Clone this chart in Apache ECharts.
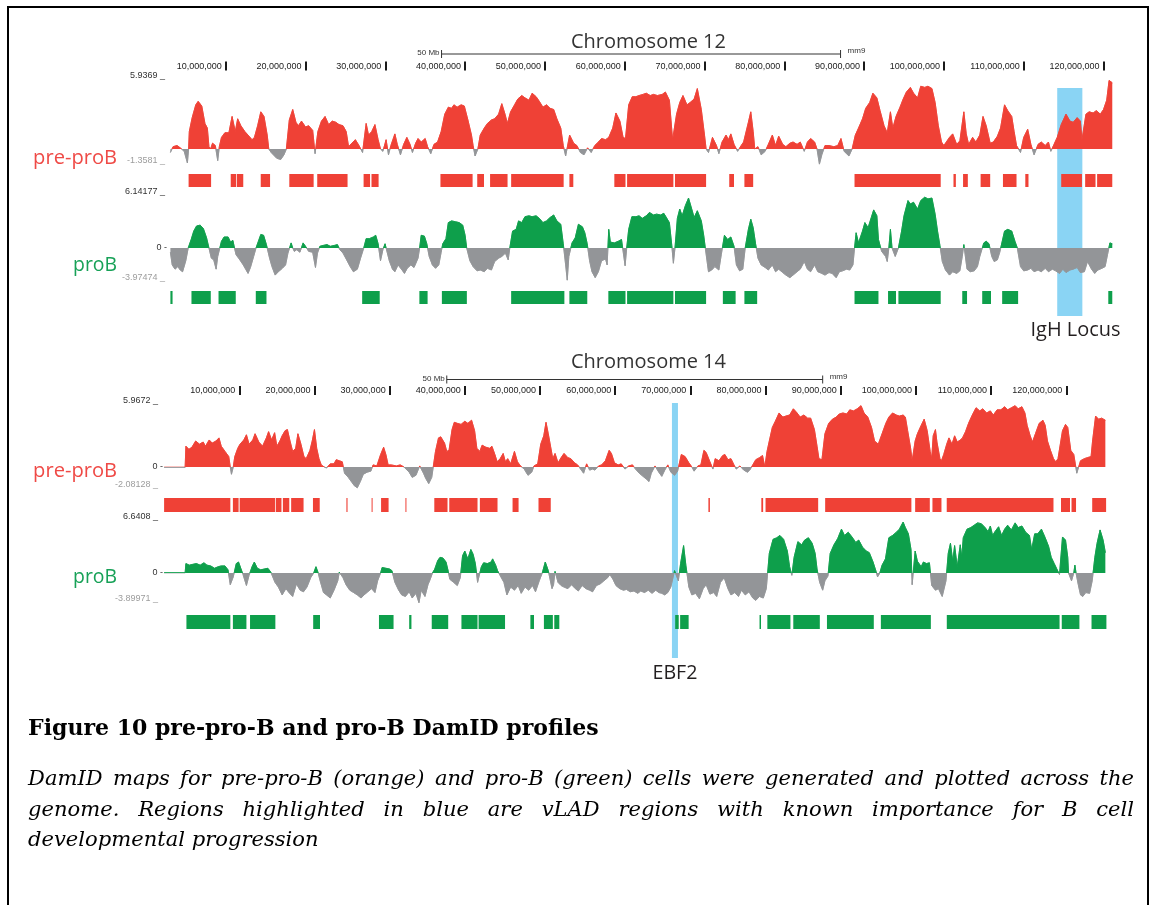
<!DOCTYPE html>
<html><head><meta charset="utf-8">
<script src="https://cdn.jsdelivr.net/npm/echarts/dist/echarts.min.js"></script>
<style>html,body{margin:0;padding:0;background:#fff}#c{width:1156px;height:905px}</style>
</head><body><div id="c"></div>
<script>
// ---------------- DATA (genomic positions in Mb, signal values) ----------------
const chr12Length = 121.25753;
const chr14Length = 125.194864;
const rulerTicksMb = [10,20,30,40,50,60,70,80,90,100,110,120];
const rulerTickLabels = ['10,000,000','20,000,000','30,000,000','40,000,000','50,000,000','60,000,000','70,000,000','80,000,000','90,000,000','100,000,000','110,000,000','120,000,000'];

const chr12PreRange = [-1.3581, 5.9369];
const chr12PreLabels = ['-1.3581 _', '5.9369 _'];
const chr12ProRange = [-3.97474, 6.14177];
const chr12ProLabels = ['-3.97474 _', '6.14177 _'];
const chr14PreRange = [-2.08128, 5.9672];
const chr14PreLabels = ['-2.08128 _', '5.9672 _'];
const chr14ProRange = [-3.89971, 6.6408];
const chr14ProLabels = ['-3.89971 _', '6.6408 _'];
const zeroLabel = '0 -';

const chr12PreProB = [
[3.07,-0.3],[3.4,0.2],[3.9,0.3],[4.3,0.1],[4.8,-0.2],[5.2,-1.2],[5.35,0],
[5.44,1.5],[5.8,2.7],[6.25,3.8],[6.55,4.1],[7.0,3.7],[7.4,2.2],[7.7,1.8],[7.9,0.2],
[8.1,0],[8.35,0.5],[8.7,0.3],[9.0,-1.0],[9.2,0.2],
[9.47,1.0],[9.9,1.4],[10.4,1.4],[10.8,2.8],[11.2,1.5],[11.5,2.6],[11.9,2.0],[12.4,1.5],[12.8,1.2],[13.3,0.8],[13.6,1.0],[14.0,2.0],[14.4,3.2],[14.8,2.8],[15.2,1.2],[15.4,0],
[15.7,-0.3],[16.4,-0.8],[16.9,-0.9],[17.3,-0.5],[17.6,0],
[17.97,2.5],[18.4,3.4],[18.8,2.3],[19.1,2.0],[19.5,2.4],[20.0,1.9],[20.4,2.0],[20.9,1.6],[21.2,-0.4],[21.55,1.5],[22.0,2.4],[22.45,2.8],[22.9,2.1],[23.35,2.4],[23.8,2.3],[24.2,2.1],[24.7,2.0],[25.1,1.5],[25.4,0.2],
[25.8,0.5],[26.25,0.8],[26.7,0.3],[27.15,-0.3],
[27.6,2.2],[27.9,1.2],[28.3,1.5],[28.7,2.1],[29.1,0.8],[29.4,0],
[29.7,-0.2],[30.1,0.8],[30.4,-0.5],[30.7,0.3],[31.2,1.3],[31.5,0.4],[31.9,-0.5],[32.3,0.4],[32.7,1.0],[33.1,0.4],[33.4,-0.3],[33.8,0.5],[34.1,0.9],[34.5,0.6],[35.0,0.9],[35.3,0.2],[35.7,-0.4],[36.1,0.4],[36.55,0.6],
[37.0,1.5],[37.45,3.0],[37.9,3.6],[38.3,3.5],[38.6,3.8],[39.0,3.6],[39.5,3.8],[39.9,3.7],[40.35,2.5],[40.8,1.2],[41.0,0.3],[41.25,-0.6],[41.6,0],
[41.9,1.2],[42.4,1.8],[42.8,2.2],[43.3,2.5],[43.7,2.6],[44.2,3.0],[44.6,3.9],[45.0,3.0],[45.3,2.2],
[45.7,3.2],[46.2,3.8],[46.6,4.3],[47.1,4.6],[47.5,4.4],[48.0,4.2],[48.4,4.8],[48.9,4.5],[49.3,4.1],[49.75,3.6],[50.2,3.8],[50.65,3.5],[51.1,3.4],[51.5,2.6],[51.99,1.8],[52.3,0.3],
[52.6,-0.6],[53.1,1.2],[53.6,0.5],[54.0,0.3],[54.45,-0.3],[54.9,-0.5],[55.35,0.1],[55.8,-0.3],[56.25,0.3],
[56.7,0.6],[57.1,0.9],[57.6,0.8],[58.0,1.0],[58.5,1.8],[58.9,3.1],[59.4,2.4],[59.8,1.0],[60.1,0.9],
[60.5,3.8],[60.95,4.5],[61.4,4.5],[61.8,4.6],[62.3,4.7],[62.7,4.8],[63.2,4.6],[63.6,4.7],[64.1,4.6],[64.7,4.7],[65.1,4.9],[65.6,4.2],[66.0,0.8],
[66.5,3.0],[66.9,4.0],[67.3,4.6],[67.8,3.8],[68.2,4.0],[68.7,4.3],[69.1,5.2],[69.6,3.4],[70.0,1.2],[70.2,0],
[70.5,-0.3],[71.0,1.0],[71.5,0.3],[71.8,-0.4],[72.2,0.6],[72.7,1.2],[73.0,0.8],[73.3,1.3],[73.7,0.4],[74.15,-0.2],[74.6,0.3],[74.9,0.6],
[75.5,2.3],[75.8,3.2],[76.1,1.5],[76.3,0],
[76.7,0.2],[77.1,-0.5],[77.6,-0.2],[78.0,0.4],[78.5,1.2],[78.9,0.3],[79.3,1.1],[79.8,0.4],[80.2,0.2],[80.7,0.5],[81.1,0.6],[81.6,0.4],[82.0,0.6],[82.5,-0.2],[82.9,0.6],[83.3,0.9],[83.8,0.6],[84.1,0],[84.4,-1.3],[84.7,-0.5],[85.1,0.3],[85.6,0.3],[86.2,0.2],[86.7,0.3],[87.1,0.9],[87.5,-0.2],[87.8,-0.4],[88.1,-0.6],[88.5,0],
[88.9,1.2],[89.3,1.8],[89.8,2.6],[90.2,3.5],[90.7,4.0],[91.1,4.8],[91.6,4.4],[92.0,3.3],[92.5,2.0],[92.9,1.4],[93.3,3.2],[93.6,1.8],[94.0,2.8],[94.5,3.6],[94.9,4.3],[95.3,4.9],[95.8,5.3],[96.2,4.8],[96.7,4.4],[97.1,5.4],[97.6,5.3],[98.0,5.4],[98.5,5.2],[98.9,4.0],[99.3,2.0],[99.7,0.6],
[100.0,0.3],[100.7,1.0],[101.1,1.3],[101.6,0.4],[102.0,0.7],[102.5,3.2],[102.8,1.3],[103.1,0.4],[103.6,1.0],[104.0,0.6],[104.5,1.2],[104.9,2.8],[105.3,2.0],[105.8,0.5],[106.2,0.6],[106.7,1.1],[107.1,1.8],[107.6,3.8],[108.0,3.3],[108.5,2.8],[108.8,1.5],[109.1,0.3],[109.6,-0.3],[110.0,1.0],[110.5,1.7],[110.9,0.4],[111.3,-0.5],[111.8,0.4],[112.2,0.6],[112.7,0.3],[113.1,0.6],[113.4,-0.2],[113.8,0.4],
[114.2,1.0],[114.7,2.1],[115.3,3.0],[115.8,2.4],[116.2,2.3],[116.7,2.7],[117.1,2.4],[117.3,0.8],
[117.8,3.0],[118.2,3.2],[118.7,3.1],[119.1,3.3],[119.6,3.0],[120.0,3.4],[120.4,4.2],[120.7,5.9],[120.9,5.8],[121.1,5.7]
];

const chr12ProB = [
[3.07,-0.5],[3.3,-2.0],[3.65,-2.5],[4.0,-2.2],[4.3,-2.6],[4.6,-2.8],[5.0,-1.5],[5.3,0],
[5.67,1.0],[6.0,2.0],[6.35,2.6],[6.8,2.7],[7.2,2.3],[7.6,1.2],[7.9,0],
[8.2,-1.2],[8.5,-1.4],[8.8,-2.5],[9.0,-1.0],
[9.47,0.8],[9.8,1.3],[10.3,1.3],[10.6,0.7],[10.9,0.9],[11.1,0],
[11.3,-0.8],[11.7,-1.3],[12.2,-2.0],[12.5,-2.5],[12.8,-3.0],[13.1,-2.3],[13.5,-1.0],[13.8,0],
[14.1,0.8],[14.4,1.6],[14.75,1.5],[15.1,0.4],
[15.5,-1.2],[15.8,-2.2],[16.2,-3.2],[16.6,-2.8],[17.1,-2.4],[17.5,-2.0],[17.8,-0.6],
[18.2,0.6],[18.4,0],[18.6,-0.4],[18.9,-0.2],[19.3,-0.5],[19.7,0.6],[20.0,0.2],
[20.4,-0.4],[20.9,-0.5],[21.25,-2.3],[21.5,-0.6],
[21.8,0.2],[22.2,0.3],[22.7,0.4],[23.1,0.2],[23.6,0.3],[24.0,0.4],[24.3,-0.2],
[24.7,-0.6],[25.1,-1.3],[25.6,-2.2],[26.0,-2.8],[26.5,-2.5],[26.9,-1.2],[27.3,0],
[27.6,1.1],[28.0,1.1],[28.5,1.3],[28.8,1.5],[29.1,0.5],
[29.4,-1.5],[29.7,-0.2],[29.97,0.5],[30.1,0],
[30.5,-1.5],[30.9,-2.5],[31.2,-2.8],[31.6,-2.0],[32.1,-2.6],[32.4,-3.0],[32.75,-2.4],[33.2,-2.0],[33.6,-2.3],[34.1,-1.2],[34.3,0],
[34.5,1.5],[34.9,1.4],[35.2,0.5],
[35.5,-1.0],[35.9,-2.0],[36.3,-2.4],[36.7,-2.0],[37.0,-0.5],
[37.2,0.5],[37.6,1.1],[37.9,3.0],[38.3,3.2],[38.8,3.1],[39.25,3.0],[39.7,2.7],[40.0,1.5],[40.2,0],
[40.6,-1.5],[41.0,-2.2],[41.5,-2.7],[41.9,-2.6],[42.4,-2.8],[42.8,-2.4],[43.3,-2.6],[43.7,-1.6],[44.2,-1.2],[44.6,-1.0],[45.05,-0.6],[45.4,-1.4],[45.6,0],
[45.95,2.0],[46.4,2.2],[46.7,3.2],[47.1,3.0],[47.5,3.7],[48.0,3.8],[48.4,3.7],[48.9,3.8],[49.3,3.5],[49.75,3.0],[50.2,3.2],[50.65,3.6],[51.1,3.9],[51.5,3.2],[51.99,2.8],[52.3,0.5],
[52.6,-2.0],[52.8,-3.8],[53.0,-1.0],
[53.4,0.6],[53.8,1.2],[54.2,2.8],[54.7,2.5],[55.0,1.8],[55.3,0.5],
[55.6,-1.5],[55.9,-2.8],[56.3,-3.5],[56.7,-2.8],[57.1,-1.5],[57.6,-1.3],[57.8,-2.0],
[58.0,2.2],[58.2,0.7],[58.7,0.6],[59.2,0.8],[59.6,1.0],[59.8,0.8],
[60.05,-2.1],[60.25,0],
[60.5,2.2],[60.9,3.7],[61.4,3.7],[61.8,3.8],[62.2,3.5],[62.7,3.8],[63.1,4.2],[63.6,3.9],[64.0,4.0],[64.5,3.9],[64.9,4.1],[65.6,3.0],[65.9,0.3],
[66.1,-1.8],[66.3,0],
[66.6,3.5],[66.9,4.6],[67.2,3.8],[67.6,5.0],[68.0,5.9],[68.4,4.6],[68.7,3.6],[69.1,4.4],[69.6,3.2],[69.9,1.5],[70.1,0],
[70.5,-2.8],[70.9,-2.6],[71.3,-2.2],[71.8,-2.6],[72.1,-0.8],
[72.5,1.5],[72.9,1.0],[73.3,1.3],[73.7,0.2],
[74.0,-2.0],[74.4,-2.7],[74.8,-2.5],[75.1,0],
[75.5,2.2],[75.8,3.4],[76.1,2.4],[76.4,0.5],
[76.7,-1.2],[77.1,-2.0],[77.6,-2.3],[78.0,-2.6],[78.5,-2.0],[78.9,-2.8],[79.3,-2.5],[79.8,-2.9],[80.2,-3.2],[80.7,-3.5],[81.1,-3.2],[81.6,-2.8],[82.0,-2.5],[82.5,-1.6],[82.9,-2.5],[83.3,-2.8],[83.8,-2.0],[84.2,-2.8],[84.7,-3.0],[85.1,-3.2],[85.6,-2.9],[86.0,-3.0],[86.5,-3.5],[86.9,-2.8],[87.3,-2.7],[87.8,-2.5],[88.2,-2.6],[88.6,-2.0],[88.8,0],
[89.0,1.8],[89.3,0.6],[89.8,2.0],[90.1,3.0],[90.5,2.4],[90.9,3.6],[91.2,4.5],[91.6,3.8],[91.8,1.0],
[92.2,-0.4],[92.7,-1.0],[92.9,-1.6],[93.1,0],
[93.3,2.2],[93.5,0],[93.9,-1.0],[94.3,0],
[94.7,2.0],[95.0,3.8],[95.5,5.6],[95.8,5.2],[96.2,5.4],[96.7,4.6],[97.1,5.6],[97.6,6.0],[98.0,5.8],[98.5,5.9],[98.9,4.0],[99.2,2.0],[99.5,0.3],
[99.8,-1.6],[100.2,-2.6],[100.7,-3.2],[101.1,-2.8],[101.6,-3.0],[102.0,-2.7],[102.3,-1.0],[102.5,0.4],
[102.9,-2.5],[103.3,-2.8],[103.8,-2.7],[104.2,-2.2],[104.5,-1.0],
[105.0,0.6],[105.3,0.8],[105.65,0.5],
[106.0,-1.0],[106.3,-1.6],[106.7,-1.4],[107.0,-0.5],
[107.6,2.0],[108.0,2.2],[108.5,2.0],[108.9,0.8],[109.2,0],
[109.6,-2.2],[110.0,-2.7],[110.5,-2.6],[110.9,-2.4],[111.3,-2.8],[111.8,-2.6],[112.2,-2.8],[112.7,-2.4],[113.1,-2.8],[113.6,-2.5],[114.0,-2.7],[114.5,-3.0],[114.9,-2.5],[115.3,-2.9],[115.8,-2.6],[116.2,-2.5],[116.7,-2.3],[117.1,-2.9],[117.6,-2.8],[118.0,-1.6],[118.5,-2.5],[118.9,-3.0],[119.3,-2.6],[119.8,-2.4],[120.2,-2.2],[120.5,-0.8],[120.8,0.6],[121.1,0.5]
];

const chr14PreProB = [
[0,-0.03],[2.8,-0.03],
[2.9,2.0],[3.3,1.7],[3.7,1.9],[4.2,2.5],[4.7,2.2],[5.2,2.4],[5.5,2.0],[6.0,2.6],[6.4,2.3],[6.9,2.5],[7.3,2.8],[7.6,2.0],[8.1,1.5],[8.6,1.0],[8.8,0],[8.96,-0.7],[9.2,0],
[9.4,1.0],[9.8,1.8],[10.1,2.2],[10.6,2.6],[10.95,3.1],[11.3,2.2],[11.8,2.6],[12.1,3.2],[12.6,2.4],[13.1,2.0],[13.6,2.8],[13.9,3.4],[14.3,2.6],[14.7,3.3],[15.0,2.0],[15.4,2.5],[15.7,3.0],[16.1,3.5],[16.4,3.6],[16.75,2.5],[17.1,1.5],[17.5,1.8],[17.8,3.2],[18.2,2.2],[18.6,1.0],[18.9,0.8],[19.4,1.6],[19.7,2.5],[20.0,3.6],[20.3,1.8],[20.6,0.8],[20.9,0.2],
[21.3,0],[21.6,-0.1],[22.1,0.3],[22.6,0.3],[22.9,0.7],[23.3,0.6],[23.7,0.5],
[24.0,-0.6],[24.5,-1.0],[25.0,-1.5],[25.3,-1.8],[25.7,-2.0],[26.1,-1.4],[26.5,-0.7],[27.0,-0.5],[27.5,-0.4],
[27.8,0.2],[28.3,0.1],[28.8,1.2],[29.2,1.9],[29.5,1.2],[29.8,0.2],
[30.2,0.2],[30.9,0.1],[31.4,0.2],[31.9,0],[32.1,0.1],
[32.6,-0.5],[33.0,-1.0],[33.5,-0.8],[34.0,0.1],[34.5,-0.6],[34.8,-1.1],[35.2,-1.6],[35.6,-1.0],[35.8,0],
[36.1,1.5],[36.5,2.8],[36.8,2.9],[37.3,2.3],[37.6,1.5],[37.9,1.6],[38.3,3.6],[38.6,4.3],[39.0,4.2],[39.5,4.1],[40.0,4.4],[40.4,4.2],[40.9,4.5],[41.3,3.5],[41.6,1.8],[42.0,1.5],[42.3,2.1],[42.8,1.9],[43.3,1.8],[43.6,2.0],[44.0,1.2],[44.3,0.5],
[44.7,0.8],[45.1,1.3],[45.4,0.5],[45.7,0.8],[46.1,0.3],[46.6,1.5],[47.0,0.5],[47.4,0.1],[47.9,-0.2],[48.4,-0.8],[48.9,-0.5],[49.2,0.1],[49.7,0.3],
[50.1,2.2],[50.5,3.0],[50.8,4.3],[51.1,3.2],[51.4,2.0],[51.7,0.8],
[52.0,1.3],[52.4,0.4],[52.9,1.0],[53.2,1.3],[53.7,0.9],[54.1,0.8],[54.6,0.4],[55.0,0.2],[55.5,-0.3],[55.8,-0.6],[56.2,0.3],
[56.6,-0.3],[57.0,-0.2],[57.3,-0.3],[57.8,0.1],[58.2,0.2],[58.7,0.6],[59.2,1.6],[59.5,1.3],[59.9,0.4],[60.4,0.2],
[60.8,0.3],[61.3,-0.2],[61.8,0.1],[62.3,0.2],[62.7,-0.2],[63.2,-0.6],[63.7,-0.9],[64.2,-1.2],[64.5,-1.4],[64.8,-0.6],[65.3,0.1],[65.8,-0.5],[66.2,-0.9],[66.6,-0.3],[67.0,0.2],[67.4,-0.5],[67.9,-0.8],[68.3,-0.4],
[68.8,1.2],[69.3,1.0],[69.8,0.4],[70.2,0],[70.5,-0.4],[71.0,0.1],[71.4,0.2],
[71.8,1.6],[72.1,1.4],[72.6,0.5],[73.0,-0.2],[73.3,0.8],[73.8,0.6],[74.3,1.1],[74.6,1.2],[75.0,0.7],[75.4,0.8],[75.8,0.2],
[76.1,-0.2],[76.6,0.1],[77.1,-0.3],[77.6,-0.5],[77.9,-0.3],[78.3,0.2],[78.7,0.7],[79.2,0.9],[79.6,1.1],[79.9,0],
[80.2,1.5],[80.5,2.5],[80.9,3.8],[81.3,4.4],[81.8,5.2],[82.3,4.8],[82.7,4.9],[83.2,5.0],[83.7,5.6],[84.2,5.2],[84.6,4.8],[85.1,5.0],[85.6,4.7],[86.0,4.7],[86.5,3.6],[86.85,2.0],[87.1,0.8],[87.5,0.7],
[87.9,3.2],[88.4,4.2],[88.9,4.6],[89.4,4.8],[89.8,5.1],[90.3,5.2],[90.8,5.1],[91.2,5.5],[91.7,5.4],[92.2,5.6],[92.7,5.9],[93.1,5.2],[93.6,4.8],[94.1,3.8],[94.5,2.5],[95.0,2.2],[95.5,3.2],[96.0,4.2],[96.4,4.8],[96.9,5.2],[97.4,5.0],[97.8,4.9],[98.3,5.0],[98.6,4.8],[98.9,3.5],[99.3,1.8],[99.5,0.6],
[99.9,2.5],[100.2,3.2],[100.7,4.0],[101.1,4.6],[101.5,3.5],[101.9,1.5],[102.1,0.8],[102.3,3.0],[102.6,3.6],[102.8,2.4],[103.2,0.8],[103.4,0.6],
[103.7,1.2],[104.1,2.2],[104.4,2.8],[104.8,2.2],[105.15,3.0],[105.5,2.4],[105.9,2.6],[106.2,2.8],[106.6,3.4],[107.0,4.2],[107.5,5.0],[108.0,5.7],[108.5,5.4],[108.9,5.6],[109.4,5.2],[109.9,5.4],[110.3,5.0],[110.8,5.5],[111.3,5.5],[111.8,5.8],[112.2,5.5],[112.7,5.7],[113.2,5.9],[113.6,5.6],[114.1,5.8],[114.5,5.2],[114.8,4.0],[115.2,3.0],[115.5,2.4],
[115.9,3.2],[116.4,4.2],[116.9,4.5],[117.2,4.0],[117.5,2.5],[117.9,1.6],[118.3,0.8],[118.6,0.5],[118.9,0.8],
[119.5,3.5],[119.9,4.1],[120.2,3.8],[120.6,1.6],[121.0,1.2],[121.2,0.3],[121.4,-0.6],
[121.9,0.6],[122.4,0.8],[122.8,0.9],[123.3,1.0],[123.5,2.5],[123.9,4.9],[124.3,4.6],[124.7,4.7],[125.2,4.5]
];

const chr14ProB = [
[0,0.03],[2.8,0.03],
[2.9,1.2],[3.35,1.0],[3.8,1.1],[4.3,1.2],[4.8,1.0],[5.3,1.3],[5.7,1.0],[6.2,0.9],[6.7,0.6],[7.2,0.8],[7.6,0.9],[8.1,0.9],[8.5,0.4],
[8.8,-1.5],[9.2,-0.5],
[9.6,1.2],[9.9,1.4],[10.2,0.6],
[10.5,-0.2],[10.95,-1.6],[11.3,-0.3],
[11.7,0.8],[12.0,1.4],[12.4,0.6],[12.85,0.4],[13.3,0.5],[13.8,0.6],[14.2,0.1],
[14.75,-1.2],[15.2,-1.8],[15.7,-2.8],[16.2,-2.0],[16.7,-2.6],[17.1,-3.0],[17.6,-1.4],[18.1,-2.2],[18.55,-2.4],[19.0,-1.8],[19.5,-0.6],[19.9,0],
[20.2,0.8],[20.5,0],
[20.7,-0.8],[21.2,-2.5],[21.6,-2.8],[22.1,-3.2],[22.6,-2.2],[23.1,-1.0],[23.3,0.1],
[23.8,-0.6],[24.2,-1.5],[24.7,-2.2],[25.2,-2.5],[25.7,-2.8],[26.2,-3.2],[26.6,-2.8],[27.1,-2.4],[27.6,-2.0],[28.05,-2.5],[28.4,-1.0],[28.8,0],
[29.0,0.7],[29.5,0.6],[30.0,0.5],[30.3,0.3],
[30.7,-1.2],[31.2,-2.2],[31.6,-2.8],[32.1,-3.0],[32.6,-2.4],[33.0,-3.2],[33.5,-2.6],[33.9,-3.8],[34.2,-2.2],[34.7,-3.0],[35.1,-1.5],[35.4,-0.8],[35.7,0],
[36.0,0.5],[36.4,1.6],[36.7,2.0],[37.1,1.9],[37.5,1.4],[37.8,0.2],
[38.0,-0.8],[38.5,-1.2],[39.0,-1.6],[39.4,-0.6],
[39.7,2.2],[40.0,2.8],[40.4,1.8],[40.8,3.0],[41.1,2.4],[41.4,1.2],
[41.7,-1.2],[42.0,0],
[42.2,0.8],[42.5,1.3],[43.0,1.2],[43.5,1.4],[43.7,1.8],[44.1,1.0],[44.35,0.3],
[44.8,-0.5],[45.2,-1.2],[45.6,-2.8],[46.1,-1.8],[46.6,-2.2],[47.1,-1.6],[47.5,-2.6],[48.0,-1.8],[48.5,-2.2],[49.0,-1.6],[49.4,-2.4],[49.9,-1.0],[50.3,0],
[50.7,1.4],[51.1,0.3],
[51.6,-2.0],[51.8,-1.5],[52.0,0.2],
[52.4,-1.2],[52.8,-1.6],[53.2,-1.8],[53.7,-2.0],[54.2,-1.5],[54.7,-2.0],[55.1,-2.3],[55.6,-1.6],[56.1,-2.0],[56.6,-2.2],[57.0,-2.4],[57.5,-1.6],[58.0,-1.4],[58.5,-1.0],[59.0,-0.6],[59.3,-0.2],[59.7,-0.8],[60.1,-1.6],[60.6,-2.0],[61.1,-2.2],[61.5,-2.1],[62.0,-2.4],[62.5,-2.3],[63.0,-2.6],[63.4,-2.3],[63.9,-2.5],[64.4,-2.2],[64.9,-2.6],[65.4,-2.2],[65.8,-2.5],[66.2,-2.6],[66.6,-2.8],[67.0,-2.5],[67.4,-1.8],
[67.9,0.3],[68.1,0.5],[68.4,-1.0],
[68.7,1.2],[69.1,3.5],[69.4,1.0],
[69.8,-1.8],[70.2,-2.8],[70.7,-2.6],[71.2,-3.3],[71.7,-2.0],[72.1,-1.5],[72.6,-2.7],[73.1,-2.5],[73.5,-3.0],[74.0,-1.2],[74.5,-0.6],[75.0,-2.0],[75.4,-2.8],[75.9,-2.5],[76.4,-3.0],[76.8,-2.2],[77.3,-2.8],[77.8,-2.4],[78.3,-3.2],[78.7,-3.5],[79.2,-3.0],[79.7,-3.2],[80.1,-2.0],
[80.5,2.5],[81.0,4.3],[81.5,4.5],[81.9,4.8],[82.4,4.3],[82.9,2.8],[83.2,0.8],[83.5,-0.3],
[83.8,2.0],[84.3,4.0],[84.8,3.6],[85.2,4.2],[85.7,4.5],[86.2,3.8],[86.6,2.5],[86.85,0.5],
[87.2,-1.2],[87.6,-2.2],[87.9,-1.0],[88.3,-0.4],
[88.6,2.5],[89.1,3.6],[89.6,4.4],[90.1,5.6],[90.5,4.8],[91.0,5.2],[91.5,4.6],[92.0,3.9],[92.4,4.2],[92.9,3.3],[93.4,2.8],[93.8,2.6],[94.3,1.4],[94.7,0.2],
[94.9,-0.5],[95.2,0],
[95.5,1.0],[95.95,1.8],[96.4,4.5],[96.9,4.8],[97.4,5.2],[97.8,5.6],[98.3,6.5],[98.6,5.8],[99.0,5.0],[99.35,3.0],[99.5,-1.5],
[99.9,2.8],[100.2,1.5],[100.7,0.8],[101.0,1.4],[101.4,1.2],[101.8,1.3],
[102.1,-1.6],[102.6,-2.2],[103.0,-2.0],[103.5,-3.0],[104.0,-1.0],
[104.3,2.5],[104.6,3.8],[104.9,1.5],[105.15,3.5],[105.5,0.8],[105.9,3.6],[106.1,2.0],[106.3,4.5],[106.8,5.6],[107.3,5.8],[107.75,6.1],[108.2,6.4],[108.7,6.3],[109.2,5.8],[109.6,5.3],[109.9,6.0],[110.2,4.8],[110.6,5.4],[111.0,5.9],[111.4,4.8],[111.8,5.6],[112.2,6.1],[112.7,5.5],[113.2,6.4],[113.6,5.8],[114.1,6.0],[114.6,5.2],[115.1,4.8],[115.4,3.0],[115.8,5.0],[116.2,5.0],[116.7,5.6],[117.2,4.5],[117.65,3.4],[118.0,2.0],[118.4,1.2],[118.7,0.6],[119.1,-0.2],
[119.5,4.6],[119.9,4.2],[120.2,2.0],[120.3,0],
[120.7,-1.0],[121.0,0],[121.15,1.0],[121.3,0],
[121.6,-1.5],[121.9,-2.8],[122.2,-3.0],[122.6,-2.5],[123.1,-2.6],[123.45,-1.0],
[123.8,2.0],[124.1,3.8],[124.5,5.5],[124.9,4.2],[125.2,2.6]
];

// LAD domain segments [start, end] in Mb
const chr12PreProBLADs = [[5.35,8.17],[10.63,11.3],[11.39,12.2],[14.39,15.56],[17.97,21.02],[21.47,25.27],[27.28,28.09],[28.27,29.16],[36.91,40.94],[41.52,42.37],[43.13,45.32],[45.77,52.35],[53.07,53.56],[58.7,60.1],[60.3,66.1],[66.3,70.2],[73.1,73.7],[75.0,76.1],[88.8,99.6],[101.2,101.5],[102.4,103.0],[104.6,105.8],[107.4,109.1],[110.2,110.6],[114.7,117.3],[117.7,119.0],[119.2,121.1]];
const chr12ProBLADs = [[3.07,3.34],[5.71,8.13],[9.1,11.26],[13.77,15.11],[27.1,29.3],[34.27,35.3],[37.09,40.22],[45.77,52.44],[53.07,55.31],[57.95,60.1],[60.3,66.1],[66.3,70.2],[72.3,73.9],[75.0,76.6],[88.8,91.8],[93.0,94.0],[94.3,99.6],[102.3,102.9],[104.8,105.9],[107.3,109.3],[120.6,121.1]];
const chr14PreProBLADs = [[0,8.81],[9.15,9.91],[10.05,14.75],[14.85,15.61],[15.8,16.65],[16.9,18.55],[19.8,20.7],[24.25,24.4],[27.6,27.7],[28.86,29.86],[32.1,32.2],[35.94,37.7],[37.93,41.69],[42.0,44.35],[46.35,47.15],[49.8,51.43],[72.4,72.6],[79.44,79.68],[80.0,87.0],[87.93,99.4],[99.9,101.85],[102.2,103.4],[104.1,118.3],[119.3,120.5],[120.7,121.3],[123.45,125.3]];
const chr14ProBLADs = [[2.97,8.81],[9.15,10.95],[11.43,14.8],[19.83,20.74],[28.58,30.52],[32.6,32.9],[35.6,37.79],[39.55,41.69],[41.83,45.35],[48.72,49.2],[50.52,51.71],[51.9,52.57],[67.98,68.45],[68.64,69.77],[79.2,79.4],[80.24,83.31],[83.69,87.22],[88.17,94.4],[95.34,101.99],[104.11,119.11],[119.4,121.75],[123.36,125.34]];

// highlighted vLAD regions
const chr12Highlights = [[114.2,117.35]];
const chr14Highlights = [[67.55,68.35]];
const highlightLabels = ['IgH Locus', 'EBF2'];
const scaleBarMb = 50;
const chr12ScaleStart = 37.05, chr14ScaleStart = 37.6;

const titleText = 'Figure 10 pre-pro-B and pro-B DamID profiles';
const captionLines = [
 'DamID maps for pre-pro-B (orange) and pro-B (green) cells were generated and plotted across the',
 'genome. Regions highlighted in blue are vLAD regions with known importance for B cell',
 'developmental progression'
];

// ---------------- STYLE / LAYOUT ----------------
const RED = '#EF4136', GREEN = '#0E9F4B', GRAY = '#939598', BLUE = '#8AD4F4';
const SMALL = '"Liberation Sans", Arial, sans-serif';
const SANS = '"Open Sans", "Noto Sans", sans-serif';
const SERIF = '"DejaVu Serif", serif';

const L12 = 145.9, W12 = chr12Length * 7.98;
const L14 = 164.1, W14 = chr14Length * 7.518;

const grids = [], xAxes = [], yAxes = [], series = [], visualMaps = [];
let rulerXIndex = [];

function addGrid(left, width, top, height) {
  grids.push({left, top, width, height, containLabel: false, outerBoundsMode: 'none'});
  return grids.length - 1;
}
function addX(g, max, ruler, margin) {
  const ax = {type: 'value', gridIndex: g, min: 0, max, position: 'bottom',
    axisLine: {show: false}, splitLine: {show: false}, axisTick: {show: false}, axisLabel: {show: false}};
  if (ruler) {
    ax.axisTick = {show: true, inside: true, length: 9, lineStyle: {color: '#1a1a1a', width: 2}, customValues: rulerTicksMb};
    ax.axisLabel = {show: true, inside: true, margin: margin, verticalAlign: 'middle', align: 'right',
      padding: [0, 4, 0, 0], fontSize: 9, fontFamily: SMALL, color: '#222', customValues: rulerTicksMb,
      formatter: v => { const i = rulerTicksMb.indexOf(Math.round(+v)); return i >= 0 ? rulerTickLabels[i] : ''; }};
  }
  xAxes.push(ax); return xAxes.length - 1;
}
function addTrack(c) {
  const g = addGrid(c.left, c.width, c.top, c.height);
  const xi = addX(g, c.len, false);
  const yi = yAxes.length;
  yAxes.push({type: 'value', gridIndex: g, min: c.range[0], max: c.range[1], position: 'left',
    axisLine: {show: false}, axisTick: {show: false}, splitLine: {show: false},
    axisLabel: {show: true, customValues: [c.range[1], c.range[0]], margin: c.left - c.labelEdge,
      align: 'right', verticalAlign: 'bottom', fontSize: 9, fontFamily: SMALL,
      color: v => (parseFloat(v) > 0 ? '#333' : '#9d9d9d'),
      formatter: v => (parseFloat(v) > 0 ? c.labels[1] : c.labels[0])}});
  if (c.zeroEdge != null) {
    yAxes.push({type: 'value', gridIndex: g, min: c.range[0], max: c.range[1], position: 'left',
      axisLine: {show: false}, axisTick: {show: false}, splitLine: {show: false},
      axisLabel: {show: true, customValues: [0], margin: c.left - c.zeroEdge, align: 'right',
        verticalAlign: 'middle', fontSize: 9, fontFamily: SMALL, color: '#333', formatter: () => zeroLabel}});
  }
  series.push({type: 'line', xAxisIndex: xi, yAxisIndex: yi, data: c.data, symbol: 'none', showSymbol: false,
    lineStyle: {width: 0.8}, areaStyle: {opacity: 1}, z: 3, silent: true, animation: false});
  const lo = -100, hi = 100;
  visualMaps.push({type: 'piecewise', show: false, seriesIndex: series.length - 1, dimension: 1,
    pieces: c.zeroPos ? [{gte: lo, lt: 0, color: GRAY}, {gte: 0, lte: hi, color: c.color}]
                      : [{gte: lo, lte: 0, color: GRAY}, {gt: 0, lte: hi, color: c.color}]});
}
function addRects(left, width, len, top, height, data, color, z) {
  const g = addGrid(left, width, top, height);
  const xi = addX(g, len, false);
  const yi = yAxes.length;
  yAxes.push({type: 'value', gridIndex: g, min: 0, max: 1, show: false});
  series.push({type: 'custom', xAxisIndex: xi, yAxisIndex: yi, data, z, silent: true, animation: false,
    encode: {x: [0, 1]},
    renderItem: (p, api) => {
      const a = api.coord([api.value(0), 1]), b = api.coord([api.value(1), 0]);
      return {type: 'rect', shape: {x: a[0], y: a[1], width: Math.max(b[0] - a[0], 1), height: b[1] - a[1]}, style: {fill: color}};
    }});
}
function addRuler(left, width, len, top, height, margin) {
  const g = addGrid(left, width, top, height);
  rulerXIndex.push(addX(g, len, true, margin));
  yAxes.push({type: 'value', gridIndex: g, min: 0, max: 1, show: false});
}

// Chromosome 12
addRuler(L12, W12, chr12Length, 62, 8.5, 4);
addRects(L12, W12, chr12Length, 88, 228, chr12Highlights, BLUE, 1);
addTrack({left: L12, width: W12, len: chr12Length, top: 80, height: 84.8, range: chr12PreRange, labels: chr12PreLabels,
  labelEdge: 165, zeroEdge: null, data: chr12PreProB, color: RED, zeroPos: false});
addRects(L12, W12, chr12Length, 174, 13, chr12PreProBLADs, RED, 3);
addTrack({left: L12, width: W12, len: chr12Length, top: 196, height: 85.65, range: chr12ProRange, labels: chr12ProLabels,
  labelEdge: 165, zeroEdge: 167, data: chr12ProB, color: GREEN, zeroPos: true});
addRects(L12, W12, chr12Length, 291, 13, chr12ProBLADs, GREEN, 3);

// Chromosome 14
addRuler(L14, W14, chr14Length, 386, 9, 4.5);
addRects(L14, W14, chr14Length, 403, 255, chr14Highlights, BLUE, 1);
addTrack({left: L14, width: W14, len: chr14Length, top: 405, height: 83.6, range: chr14PreRange, labels: chr14PreLabels,
  labelEdge: 158, zeroEdge: 163, data: chr14PreProB, color: RED, zeroPos: false});
addRects(L14, W14, chr14Length, 498, 14, chr14PreProBLADs, RED, 3);
addTrack({left: L14, width: W14, len: chr14Length, top: 521, height: 82.5, range: chr14ProRange, labels: chr14ProLabels,
  labelEdge: 158, zeroEdge: 163, data: chr14ProB, color: GREEN, zeroPos: true});
addRects(L14, W14, chr14Length, 615, 14, chr14ProBLADs, GREEN, 3);

const chart = echarts.init(document.getElementById('c'), null, {renderer: 'canvas'});
chart.setOption({animation: false, backgroundColor: '#fff', grid: grids, xAxis: xAxes, yAxis: yAxes, visualMap: visualMaps, series});

// ---------------- TEXT / ANNOTATIONS ----------------
const mctx = document.createElement('canvas').getContext('2d');
function tw(t, font) { mctx.font = font; return mctx.measureText(t).width; }
function fit(t, pre, fam, target) { return 20 * target / tw(t, pre + ' 20px ' + fam); }

const g = [];
function txt(text, x, y, font, fill, align, va) {
  g.push({type: 'text', x, y, silent: true, style: {text, font, fill, align: align || 'left', verticalAlign: va || 'middle'}});
}
// frame
g.push({type: 'rect', shape: {x: 8, y: 7, width: 1140, height: 940}, style: {fill: 'none', stroke: '#000', lineWidth: 2}, silent: true});

// chromosome titles and scale bars
function header(name, y, xAxisIdx, start, barY) {
  const fs = fit(name, '', SANS, 155);
  txt(name, 648.5, y, fs.toFixed(2) + 'px ' + SANS, '#333', 'center');
  const x0 = chart.convertToPixel({xAxisIndex: xAxisIdx}, start);
  const x1 = chart.convertToPixel({xAxisIndex: xAxisIdx}, start + scaleBarMb);
  g.push({type: 'line', shape: {x1: x0, y1: barY, x2: x1, y2: barY}, style: {stroke: '#333', lineWidth: 1}, silent: true});
  g.push({type: 'line', shape: {x1: x0, y1: barY - 4, x2: x0, y2: barY + 4}, style: {stroke: '#333', lineWidth: 1}, silent: true});
  g.push({type: 'line', shape: {x1: x1, y1: barY - 4, x2: x1, y2: barY + 4}, style: {stroke: '#333', lineWidth: 1}, silent: true});
  txt(scaleBarMb + ' Mb', x0 - 2, barY - 1, '8px ' + SMALL, '#333', 'right');
  txt('mm9', x1 + 7, barY - 3, '8px ' + SMALL, '#333', 'left');
}
header('Chromosome 12', 42.5, rulerXIndex[0], chr12ScaleStart, 54);
header('Chromosome 14', 362, rulerXIndex[1], chr14ScaleStart, 379.5);

// track names
const preFs = fit('pre-proB', '', SANS, 84), proFs = fit('proB', '', SANS, 44);
txt('pre-proB', 117, 158, preFs.toFixed(2) + 'px ' + SANS, '#EF4A46', 'right');
txt('proB', 117, 265, proFs.toFixed(2) + 'px ' + SANS, '#17A157', 'right');
txt('pre-proB', 117, 471, preFs.toFixed(2) + 'px ' + SANS, '#EF4A46', 'right');
txt('proB', 117, 577, proFs.toFixed(2) + 'px ' + SANS, '#17A157', 'right');

// highlight labels
txt(highlightLabels[0], 1075.5, 330.5, fit(highlightLabels[0], '', SANS, 90).toFixed(2) + 'px ' + SANS, '#231F20', 'center');
txt(highlightLabels[1], 675, 673, fit(highlightLabels[1], '', SANS, 45).toFixed(2) + 'px ' + SANS, '#231F20', 'center');

// caption
const tfs = fit(titleText, 'bold', SERIF, 571);
txt(titleText, 28, 729, 'bold ' + tfs.toFixed(2) + 'px ' + SERIF, '#000', 'left');
const capL = 28, capR = 1134;
let cfs = Math.min(fit(captionLines[2], 'italic', SERIF, 290.6), fit(captionLines[0], 'italic', SERIF, 1085));
const capFont = 'italic ' + cfs.toFixed(2) + 'px ' + SERIF;
const capY = [780, 811, 841];
captionLines.forEach((line, li) => {
  if (li === captionLines.length - 1) { txt(line, capL, capY[li], capFont, '#000', 'left'); return; }
  const words = line.split(' ');
  const widths = words.map(w => tw(w, capFont));
  const total = widths.reduce((a, b) => a + b, 0);
  const gap = (capR - capL - total) / (words.length - 1);
  let x = capL;
  words.forEach((w, i) => { txt(w, x, capY[li], capFont, '#000', 'left'); x += widths[i] + gap; });
});

chart.setOption({graphic: {elements: g}});
</script></body></html>
